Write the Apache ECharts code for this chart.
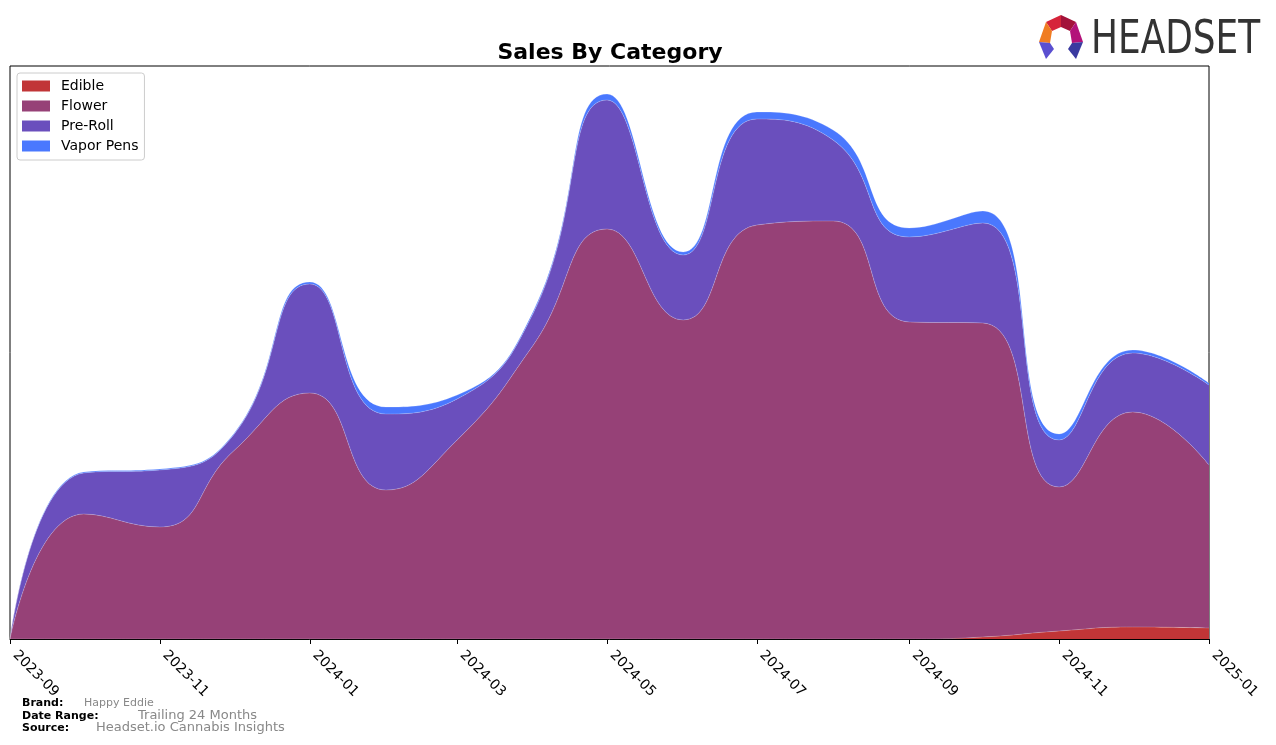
<!DOCTYPE html>
<html>
<head>
<meta charset="utf-8">
<script src="https://cdn.jsdelivr.net/npm/echarts@6/dist/echarts.min.js"></script>
<style>
  html, body { margin: 0; padding: 0; background: #fff; }
  #chart { width: 1276px; height: 745px; }
</style>
</head>
<body>
<div id="chart"></div>
<script>
const months = ['2023-09', '2023-10', '2023-11', '2023-12', '2024-01', '2024-02', '2024-03', '2024-04',
  '2024-05', '2024-06', '2024-07', '2024-08', '2024-09', '2024-10', '2024-11', '2024-12', '2025-01'];
const edible = [0, 0, 0, 0, 0, 0, 0, 0, 0, 0, 0, 0, 0, 2, 8, 12, 11];
const flower = [0, 125, 112, 188, 246, 149, 199, 294, 410, 319, 414, 418, 317, 314, 144, 215, 163];
const preRoll = [0, 41, 57, 16, 109, 76, 41, 32, 129, 65, 106, 81, 85, 100, 47, 59, 80];
const vaporPens = [0, 1, 1, 1, 2, 7, 4, 2, 6, 3, 7, 10, 9, 12, 6, 3, 2];
const tickLabels = ['2023-09', '2023-11', '2024-01', '2024-03', '2024-05', '2024-07', '2024-09', '2024-11', '2025-01'];

const names = ['Edible', 'Flower', 'Pre-Roll', 'Vapor Pens'];
const colors = ['#c13537', '#964177', '#6a4fbd', '#4a78fe'];
const values = [edible, flower, preRoll, vaporPens];

const toTime = (m) => new Date(m + '-01T00:00:00Z').getTime();
const tickTimes = tickLabels.map(toTime);
const xMin = toTime('2023-09');
const xMax = toTime('2025-01');

const chart = echarts.init(document.getElementById('chart'));

const series = names.map((name, i) => ({
  name: name,
  type: 'line',
  stack: 'total',
  smooth: 0.5,
  symbol: 'none',
  xAxisIndex: 0,
  data: months.map((m, j) => [toTime(m), values[i][j]]),
  lineStyle: { width: 0.6, color: 'rgba(255,255,255,0.35)' },
  itemStyle: { color: colors[i] },
  areaStyle: { color: colors[i], opacity: 1 }
}));

const option = {
  animation: false,
  textStyle: { fontFamily: 'DejaVu Sans' },
  title: {
    text: 'Sales By Category',
    left: 605, top: 37, textAlign: 'center',
    textStyle: { fontSize: 22, fontWeight: 'bold', color: '#000', fontFamily: 'DejaVu Sans' }
  },
  legend: {
    orient: 'vertical', left: 17, top: 73,
    data: names,
    itemWidth: 28, itemHeight: 11, itemGap: 6,
    padding: [6, 6, 7, 5],
    borderColor: '#cccccc', borderWidth: 1, borderRadius: 3,
    backgroundColor: '#fff',
    icon: 'rect',
    textStyle: { fontSize: 14, color: '#000', fontFamily: 'DejaVu Sans', padding: [0, 0, 0, 6] }
  },
  grid: { left: 10, right: 67, top: 66, bottom: 106, show: true, borderColor: '#000', borderWidth: 1 },
  xAxis: [
    {
      // data axis (time), hidden
      type: 'time', min: xMin, max: xMax, show: false
    },
    {
      // visible axis with ticks every two months
      type: 'value', min: xMin, max: xMax, position: 'bottom',
      splitLine: { show: false },
      axisLine: { show: true, onZero: false, lineStyle: { color: '#000', width: 1 } },
      axisTick: { show: true, customValues: tickTimes, length: 5, lineStyle: { color: '#000' } },
      axisLabel: {
        customValues: tickTimes,
        rotate: -45, margin: 19, verticalAlign: 'bottom',
        fontSize: 14, color: '#000', fontFamily: 'DejaVu Sans',
        formatter: (v) => {
          const d = new Date(v);
          return d.getUTCFullYear() + '-' + String(d.getUTCMonth() + 1).padStart(2, '0');
        }
      }
    }
  ],
  yAxis: {
    type: 'value', min: 0, max: 573,
    show: false, splitLine: { show: false }
  },
  series: series,
  graphic: [
    { type: 'text', left: 22, top: 698, style: { text: 'Brand:', font: 'bold 11px DejaVu Sans', fill: '#000' } },
    { type: 'text', left: 84, top: 698, style: { text: 'Happy Eddie', font: '11px DejaVu Sans', fill: '#888' } },
    { type: 'text', left: 22, top: 711, style: { text: 'Date Range:', font: 'bold 11px DejaVu Sans', fill: '#000' } },
    { type: 'text', left: 138, top: 709, style: { text: 'Trailing 24 Months', font: '13px DejaVu Sans', fill: '#888' } },
    { type: 'text', left: 22, top: 723, style: { text: 'Source:', font: 'bold 11px DejaVu Sans', fill: '#000' } },
    { type: 'text', left: 96, top: 721, style: { text: 'Headset.io Cannabis Insights', font: '13px DejaVu Sans', fill: '#888' } },
    // logo
    { type: 'polygon', shape: { points: [[1046, 22], [1061, 15], [1061, 27], [1052, 31]] }, style: { fill: '#d6243a' } },
    { type: 'polygon', shape: { points: [[1061, 15], [1076, 22], [1070, 31], [1061, 27]] }, style: { fill: '#a3123a' } },
    { type: 'polygon', shape: { points: [[1046, 22], [1052, 31], [1050, 43], [1039, 42]] }, style: { fill: '#f07c22' } },
    { type: 'polygon', shape: { points: [[1076, 22], [1083, 42], [1072, 43], [1070, 31]] }, style: { fill: '#b3127a' } },
    { type: 'polygon', shape: { points: [[1039, 42], [1050, 43], [1054, 49], [1046, 59]] }, style: { fill: '#5a4fd0' } },
    { type: 'polygon', shape: { points: [[1083, 42], [1076, 59], [1068, 49], [1072, 43]] }, style: { fill: '#3a3aa0' } },
    {
      type: 'text', left: 1091, top: 18, scaleX: 0.78,
      style: { text: 'HEADSET', font: '46px "DejaVu Sans"', fill: '#333333' }
    }
  ]
};

chart.setOption(option);
</script>
</body>
</html>
